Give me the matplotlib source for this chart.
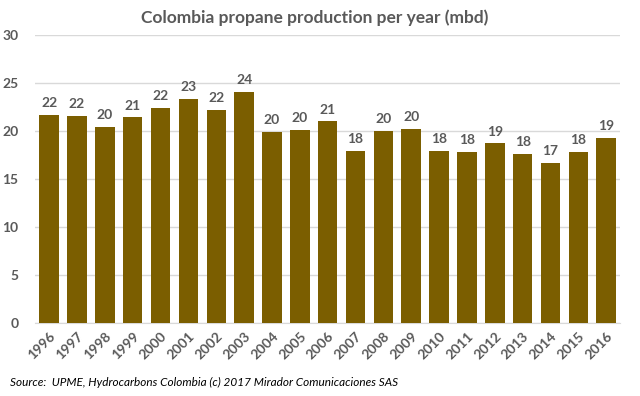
import matplotlib as mpl
mpl.use('Agg')
import matplotlib.pyplot as plt

plt.rcParams['font.family'] = ['Lato', 'DejaVu Sans']

years = [str(y) for y in range(1996, 2017)]
production = [21.7, 21.6, 20.4, 21.4, 22.4, 23.3, 22.2, 24.1, 19.9, 20.1, 21.0,
              17.9, 20.0, 20.2, 17.9, 17.8, 18.7, 17.6, 16.7, 17.8, 19.3]
yticks = [0, 5, 10, 15, 20, 25, 30]

BAR_COLOR = '#7B5E00'
TEXT_COLOR = '#595959'
GRID_COLOR = '#D9D9D9'

fig = plt.figure(figsize=(6.4, 3.96), dpi=100)
ax = fig.add_axes([0.055, 0.184, 0.914, 0.728])

x = range(len(years))
bars = ax.bar(x, production, width=0.7, color=BAR_COLOR, zorder=3)
for b, v in zip(bars, production):
    ax.text(b.get_x() + b.get_width() / 2, v + 0.6, '%d' % round(v),
            ha='center', va='bottom', fontsize=10, fontweight='bold', color=TEXT_COLOR)

ax.set_xlim(-0.5, len(years) - 0.5)
ax.set_ylim(0, 30)
ax.set_yticks(yticks)
ax.yaxis.grid(True, color=GRID_COLOR, linewidth=1, zorder=0)
ax.set_xticks(list(x))
ax.set_xticklabels(years, rotation=45, ha='right', rotation_mode='anchor')
ax.tick_params(axis='both', length=0, labelsize=10, labelcolor=TEXT_COLOR)
ax.tick_params(axis='y', pad=12)
ax.tick_params(axis='x', pad=5)
for lbl in ax.get_xticklabels() + ax.get_yticklabels():
    lbl.set_fontweight('bold')
for s in ['top', 'right', 'left']:
    ax.spines[s].set_visible(False)
ax.spines['bottom'].set_color(GRID_COLOR)

fig.text(0.492, 0.955, 'Colombia propane production per year (mbd)', ha='center', va='center',
         fontsize=12.5, fontweight='bold', color=TEXT_COLOR)
fig.text(0.016, 0.033, 'Source:  UPME, Hydrocarbons Colombia (c) 2017 Mirador Comunicaciones SAS',
         ha='left', va='center', fontsize=8.5, style='italic', color='black')

fig.savefig('out.png', dpi=100)
